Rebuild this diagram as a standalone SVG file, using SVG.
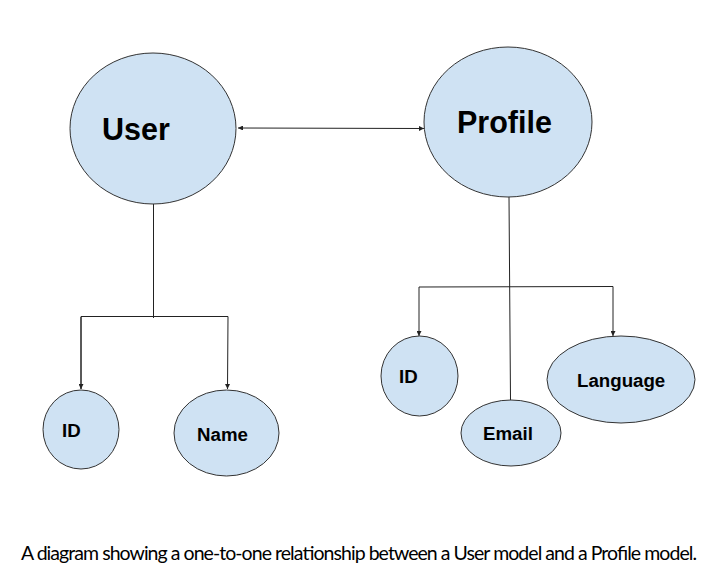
<svg xmlns="http://www.w3.org/2000/svg" width="723" height="588" viewBox="0 0 723 588">
<style>
.n{fill:#cfe2f3;stroke:#333;stroke-width:1}
.t{font-family:"Liberation Sans",Arial,sans-serif;font-weight:bold;fill:#000}
.c{fill:none;stroke:#222;stroke-width:1}
.cap{font-family:Lato,"Liberation Sans",sans-serif;font-size:19.5px;fill:#000}
</style>
<defs>
<marker id="ah" viewBox="0 0 6 6" refX="6" refY="3" markerWidth="5" markerHeight="5" orient="auto-start-reverse" markerUnits="userSpaceOnUse">
<path d="M0,0 L6,3 L0,6 z" fill="#222"/>
</marker>
</defs>
<rect width="723" height="588" fill="#fff"/>
<g id="connectors">
<line class="c" x1="238" y1="128" x2="424" y2="128.5" marker-start="url(#ah)" marker-end="url(#ah)"/>
<line class="c" x1="153.5" y1="204" x2="153.5" y2="318"/>
<polyline class="c" points="81,389 81,316.5 228,316.5 227.5,389" marker-end="url(#ah)"/>
<line class="c" x1="81" y1="317" x2="81" y2="389" marker-end="url(#ah)"/>
<line class="c" x1="509" y1="197" x2="510.5" y2="400"/>
<polyline class="c" points="419,287 613,286.5 613,336" marker-end="url(#ah)"/>
<line class="c" x1="419" y1="287" x2="419" y2="336" marker-end="url(#ah)"/>
</g>
<g id="user"><ellipse class="n" cx="153" cy="128.5" rx="83" ry="75.5"/><text class="t" x="102" y="140" font-size="30.5">User</text></g>
<g id="profile"><ellipse class="n" cx="508" cy="122" rx="84" ry="75"/><text class="t" x="457" y="133" font-size="30.5">Profile</text></g>
<g id="user-id"><ellipse class="n" cx="81" cy="429.5" rx="38" ry="39.5"/><text class="t" x="62" y="437" font-size="18.7">ID</text></g>
<g id="user-name"><ellipse class="n" cx="226.5" cy="433" rx="52.5" ry="43"/><text class="t" x="197" y="441" font-size="18.7">Name</text></g>
<g id="profile-id"><ellipse class="n" cx="419.5" cy="376" rx="38.5" ry="40"/><text class="t" x="399" y="383" font-size="18.7">ID</text></g>
<g id="profile-email"><ellipse class="n" cx="511" cy="433" rx="50" ry="33"/><text class="t" x="483" y="440" font-size="18.7">Email</text></g>
<g id="profile-language"><ellipse class="n" cx="621" cy="379.5" rx="74" ry="43.5"/><text class="t" x="577" y="387" font-size="18.7">Language</text></g>
<text class="cap" x="21" y="559.5" textLength="676" lengthAdjust="spacing">A diagram showing a one-to-one relationship between a User model and a Profile model.</text>
</svg>
